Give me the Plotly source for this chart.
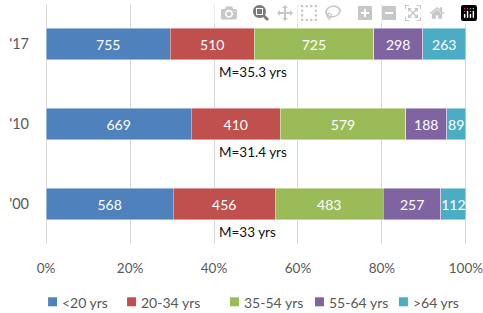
import plotly.graph_objects as go

years = ["'00", "'10", "'17"]
lt20 = [568, 669, 755]
a20_34 = [456, 410, 510]
a35_54 = [483, 579, 725]
a55_64 = [257, 188, 298]
gt64 = [112, 89, 263]
medians = ["M=33 yrs", "M=31.4 yrs", "M=35.3 yrs"]
series_names = ["<20 yrs", "20-34 yrs", "35-54 yrs", "55-64 yrs", ">64 yrs"]
colors = ["#4F81BD", "#C0504D", "#9BBB59", "#8064A2", "#4BACC6"]
ticks = [0, 20, 40, 60, 80, 100]

FONT = "Lato, sans-serif"

# body margin is removed by post_script, so figure fills the 483x313 window
W, H = 483, 313
PLOT_TOP, PLOT_BOT = 3.7, 243.7     # window px
X0_PX, X100_PX = 46, 466            # window px of 0% and 100%
PAD = 0.5                           # data-units padding so edge gridlines are drawn
PX_PER = (X100_PX - X0_PX) / 100
PLOT_L = X0_PX - PAD * PX_PER
PLOT_R = X100_PX + PAD * PX_PER
PLOT_W = PLOT_R - PLOT_L
PH = PLOT_BOT - PLOT_TOP


def py(y):
    return (PLOT_BOT - y) / PH


def px_(x):
    return (x - PLOT_L) / PLOT_W


fig = go.Figure()
for name, vals, col in zip(series_names, [lt20, a20_34, a35_54, a55_64, gt64], colors):
    fig.add_trace(go.Bar(
        y=years, x=vals, name=name, orientation="h",
        marker=dict(color=col, line=dict(color="rgba(255,255,255,0.6)", width=0.7)),
        text=[str(v) for v in vals], textposition="inside", insidetextanchor="middle",
        textangle=0, constraintext="none",
        textfont=dict(color="white", size=14, family=FONT),
        showlegend=False,
    ))

for yr, m in zip(years, medians):
    fig.add_annotation(x=40.8, y=yr, xref="x", yref="y", text=m, showarrow=False,
                       xanchor="left", yanchor="middle", yshift=-28,
                       font=dict(size=13.5, color="#111111", family=FONT))

# custom legend (one row, as in the reference)
leg_px = [48, 127, 230, 315, 399]
for p, name, col in zip(leg_px, series_names, colors):
    fig.add_shape(type="rect", xref="paper", yref="paper",
                  x0=px_(p), x1=px_(p + 9),
                  y0=py(306), y1=py(297), fillcolor=col, line=dict(width=0))
    fig.add_annotation(x=px_(p + 12), y=py(301.7), xref="paper", yref="paper",
                       text=name, showarrow=False, xanchor="left", yanchor="middle",
                       font=dict(size=14, color="#595959", family=FONT))

top_idx = 2 + (43.7 - PLOT_TOP) / 80
bot_idx = -(PLOT_BOT - 203.7) / 80

fig.update_layout(
    barmode="stack", barnorm="percent", bargap=0.61,
    width=W, height=H,
    margin=dict(l=PLOT_L, r=W - PLOT_R, t=PLOT_TOP, b=H - PLOT_BOT, autoexpand=False),
    plot_bgcolor="white", paper_bgcolor="white",
    font=dict(family=FONT, size=14, color="#595959"),
    xaxis=dict(range=[-PAD, 100 + PAD], tickvals=ticks, ticktext=[f"{t}%" for t in ticks],
               showgrid=True, gridcolor="#D9D9D9", gridwidth=1, zeroline=False,
               showline=False, ticks="", ticklabelstandoff=14, automargin=False,
               ticklabeloverflow="allow",
               tickfont=dict(size=13.5, color="#595959")),
    yaxis=dict(categoryorder="array", categoryarray=years, range=[bot_idx, top_idx],
               showgrid=False, zeroline=False, showline=False, ticks="",
               ticklabelstandoff=14, automargin=False,
               tickfont=dict(size=14.5, color="#595959")),
)

fig.write_html(
    "out.html",
    post_script="document.body.style.margin='0';document.body.style.overflow='hidden';",
)
